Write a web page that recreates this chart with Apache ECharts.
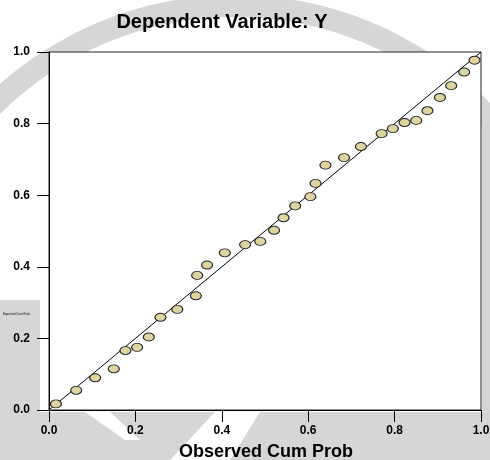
<!DOCTYPE html>
<html>
<head>
<meta charset="utf-8">
<script src="https://cdn.jsdelivr.net/npm/echarts@6/dist/echarts.min.js"></script>
<style>
  html, body { margin: 0; padding: 0; background: #fff; }
  #chart { width: 490px; height: 460px; }
</style>
</head>
<body>
<div id="chart"></div>
<script>
// observed vs expected cumulative probability (P-P plot)
const observedCumProb = [0.016, 0.063, 0.107, 0.150, 0.177, 0.204, 0.231, 0.258, 0.297, 0.340,
  0.343, 0.366, 0.407, 0.454, 0.489, 0.521, 0.543, 0.570, 0.605, 0.617, 0.640, 0.683,
  0.722, 0.770, 0.796, 0.823, 0.850, 0.876, 0.905, 0.931, 0.961, 0.985]
const expectedCumProb = [0.017, 0.055, 0.090, 0.115, 0.166, 0.175, 0.204, 0.259, 0.281, 0.319,
  0.376, 0.405, 0.439, 0.462, 0.471, 0.502, 0.537, 0.570, 0.596, 0.633, 0.684, 0.705,
  0.736, 0.772, 0.786, 0.803, 0.809, 0.836, 0.873, 0.906, 0.944, 0.977]
const refLine = [[0, 0], [1, 1]]
const tickValues = [0, 0.2, 0.4, 0.6, 0.8, 1.0]

const points = observedCumProb.map((x, i) => [x, expectedCumProb[i]])

const chart = echarts.init(document.getElementById('chart'))
const font = 'Liberation Sans, Arial, sans-serif'
const wm = '#d6d6d6'

const axisCommon = {
  type: 'value',
  min: 0,
  max: 1,
  interval: 0.2,
  axisLine: { show: true, lineStyle: { color: '#000', width: 1 } },
  axisTick: { show: true, inside: false, length: 12, lineStyle: { color: '#000' } },
  splitLine: { show: false },
  axisLabel: {
    color: '#000',
    fontFamily: font,
    fontWeight: 'bold',
    fontSize: 12,
    formatter: v => tickValues.includes(Math.round(v * 10) / 10) ? v.toFixed(1) : ''
  }
}

chart.setOption({
  backgroundColor: '#fff',
  animation: false,
  title: {
    text: 'Dependent Variable: Y',
    left: 217,
    top: 7,
    textAlign: 'center',
    textStyle: { fontFamily: font, fontWeight: 'bold', fontSize: 20, color: '#000' }
  },
  graphic: [
    // faint watermark behind the chart
    { type: 'ring', z: -5, shape: { cx: 235, cy: 350, r: 355, r0: 333 }, style: { fill: wm } },
    { type: 'rect', z: -5, shape: { x: 0, y: 300, width: 40, height: 160 }, style: { fill: wm } },
    { type: 'rect', z: -5, shape: { x: 482, y: 110, width: 8, height: 350 }, style: { fill: wm } },
    { type: 'rect', z: -5, shape: { x: 0, y: 412, width: 490, height: 48 }, style: { fill: wm } },
    { type: 'polygon', z: -4, shape: { points: [[170, 460], [215, 412], [260, 412], [230, 460]] }, style: { fill: '#fff' } },
    { type: 'polygon', z: -4, shape: { points: [[85, 412], [110, 412], [140, 440], [125, 440]] }, style: { fill: '#fff' } },
    {
      type: 'text', left: 3, top: 313, z: 10,
      style: { text: 'Expected Cum Prob', fontSize: 3, fontFamily: font, fill: '#000' }
    }
  ],
  grid: {
    left: 49,
    right: 9,
    top: 52,
    bottom: 50,
    outerBoundsMode: 'none',
    containLabel: false,
    show: true,
    backgroundColor: '#fff',
    borderColor: '#222',
    borderWidth: 1
  },
  xAxis: Object.assign({}, axisCommon, {
    name: 'Observed Cum Prob',
    nameLocation: 'middle',
    nameGap: 33,
    nameTextStyle: { fontFamily: font, fontWeight: 'bold', fontSize: 18, color: '#000', padding: [0, 0, 0, 2] },
    axisLabel: Object.assign({}, axisCommon.axisLabel, { margin: 15 })
  }),
  yAxis: Object.assign({}, axisCommon, {
    axisLabel: Object.assign({}, axisCommon.axisLabel, { margin: 19 })
  }),
  series: [
    {
      type: 'line',
      data: refLine,
      showSymbol: false,
      lineStyle: { color: '#000', width: 1 },
      z: 3
    },
    {
      type: 'scatter',
      data: points,
      symbol: 'circle',
      symbolSize: [11, 8],
      itemStyle: { color: '#ddd4a2', borderColor: '#222', borderWidth: 1, opacity: 1 },
      z: 4
    }
  ]
})
</script>
</body>
</html>
